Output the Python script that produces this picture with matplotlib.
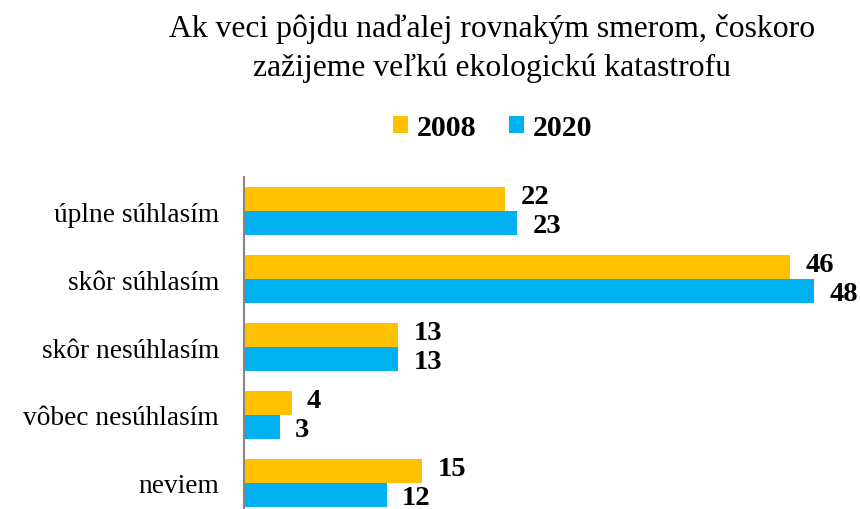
import numpy as np
import matplotlib
matplotlib.use("Agg")
import matplotlib.pyplot as plt

plt.rcParams['font.family'] = ['Liberation Serif', 'DejaVu Serif']

categories = ['úplne súhlasím', 'skôr súhlasím', 'skôr nesúhlasím',
              'vôbec nesúhlasím', 'neviem']
v2008 = [22, 46, 13, 4, 15]
v2020 = [23, 48, 13, 3, 12]
series = ['2008', '2020']
colors = ['#FFC000', '#00B0F0']

fig = plt.figure(figsize=(8.6, 5.1), dpi=100)
ax = fig.add_axes([244 / 860, -8 / 510, 594 / 860, 340 / 510])

y = np.arange(len(categories))
h = 0.355
b1 = ax.barh(y - h / 2, v2008, height=h, color=colors[0], label=series[0])
b2 = ax.barh(y + h / 2, v2020, height=h, color=colors[1], label=series[1])

# value labels, nudged apart a little so the pairs don't touch
for vals, yy, dy in ((v2008, y - h / 2, 1.5), (v2020, y + h / 2, -2)):
    for v, yi in zip(vals, yy):
        ax.annotate(str(v), (v, yi), xytext=(11, dy), textcoords='offset points',
                    ha='left', va='center', fontsize=20.5, fontweight='bold')

ax.set_xlim(0, 50)
ax.set_ylim(len(categories) - 0.5, -0.5)
ax.set_yticks(y)
ax.set_yticklabels(categories, fontsize=19.7)
ax.tick_params(axis='y', length=0, pad=18)
ax.set_xticks([])
for s in ['top', 'right', 'bottom']:
    ax.spines[s].set_visible(False)
ax.spines['left'].set_color('#868686')
ax.spines['left'].set_linewidth(1.5)

fig.text(0.572, 0.905, 'Ak veci pôjdu naďalej rovnakým smerom, čoskoro\nzažijeme veľkú ekologickú katastrofu',
         ha='center', va='center', fontsize=22.8, linespacing=1.4)

fig.legend(handles=[b1, b2], labels=series, loc='center', bbox_to_anchor=(0.573, 0.748),
           ncol=2, frameon=False, prop={'weight': 'bold', 'size': 21.5},
           handlelength=0.5, handleheight=0.5, handletextpad=0.3, columnspacing=1.1)

fig.savefig('out.png', dpi=100)
